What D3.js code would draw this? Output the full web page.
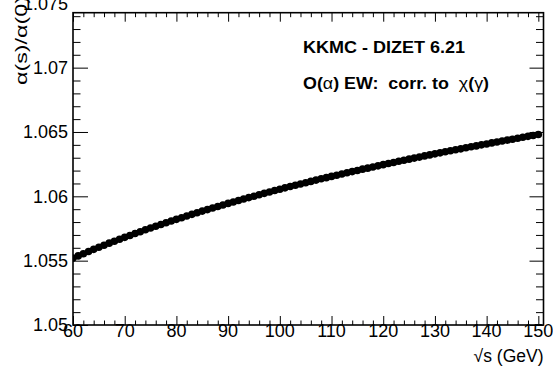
<!DOCTYPE html>
<html>
<head>
<meta charset="utf-8">
<script src="https://cdn.jsdelivr.net/npm/d3@7/dist/d3.min.js"></script>
<style>
  html, body { margin: 0; padding: 0; background: #fff; }
  svg { display: block; font-family: "Liberation Sans", Arial, Helvetica, sans-serif; }
</style>
</head>
<body>
<svg id="chart" width="553" height="375"></svg>
<script>
// Centre-of-mass energy sqrt(s) in GeV, one point per GeV
const energies = d3.range(60, 151, 1);

// alpha(s)/alpha(0) at each energy
const alphaRatio = [
  1.05520, 1.05537, 1.05554, 1.05571, 1.05588, 1.05604, 1.05620, 1.05636, 1.05651, 1.05666,
  1.05681, 1.05696, 1.05711, 1.05725, 1.05740, 1.05754, 1.05768, 1.05781, 1.05795, 1.05808,
  1.05821, 1.05834, 1.05847, 1.05860, 1.05872, 1.05885, 1.05897, 1.05909, 1.05921, 1.05933,
  1.05945, 1.05956, 1.05968, 1.05979, 1.05990, 1.06001, 1.06012, 1.06023, 1.06034, 1.06045,
  1.06055, 1.06066, 1.06076, 1.06086, 1.06096, 1.06106, 1.06116, 1.06126, 1.06136, 1.06145,
  1.06155, 1.06164, 1.06174, 1.06183, 1.06192, 1.06201, 1.06211, 1.06219, 1.06228, 1.06237,
  1.06246, 1.06255, 1.06263, 1.06272, 1.06280, 1.06289, 1.06297, 1.06305, 1.06314, 1.06322,
  1.06330, 1.06338, 1.06346, 1.06354, 1.06362, 1.06369, 1.06377, 1.06385, 1.06392, 1.06400,
  1.06407, 1.06415, 1.06422, 1.06430, 1.06437, 1.06444, 1.06451, 1.06459, 1.06466, 1.06473,
  1.06480
];

// Axis ranges and tick positions
const xDomain = [60, 151];
const yDomain = [1.05, 1.07427];
const xMajorTicks = [60, 70, 80, 90, 100, 110, 120, 130, 140, 150];
const xTickLabels = ["60", "70", "80", "90", "100", "110", "120", "130", "140", "150"];
const xMinorTicks = d3.range(60, 151, 2).filter(v => v % 10 !== 0);
const yMajorTicks = [1.05, 1.055, 1.06, 1.065, 1.07, 1.075];
const yTickLabels = ["1.05", "1.055", "1.06", "1.065", "1.07", "1.075"];
const yMinorTicks = [1.051, 1.052, 1.053, 1.054, 1.056, 1.057, 1.058, 1.059,
                     1.061, 1.062, 1.063, 1.064, 1.066, 1.067, 1.068, 1.069,
                     1.071, 1.072, 1.073, 1.074];

const svg = d3.select("#chart");
const frame = { left: 73, right: 543.5, top: 12.7, bottom: 325 };

const x = d3.scaleLinear().domain(xDomain).range([frame.left, frame.right]);
const y = d3.scaleLinear().domain(yDomain).range([frame.bottom, frame.top]);

svg.append("defs").append("clipPath").attr("id", "frameClip")
  .append("rect")
  .attr("x", frame.left).attr("y", frame.top)
  .attr("width", frame.right - frame.left).attr("height", frame.bottom - frame.top);

// Data markers
svg.append("g").attr("clip-path", "url(#frameClip)")
  .selectAll("circle")
  .data(energies.map((e, i) => [e, alphaRatio[i]]))
  .join("circle")
  .attr("cx", d => x(d[0]))
  .attr("cy", d => y(d[1]))
  .attr("r", 3.8)
  .attr("fill", "#000");

// Axes drawn via d3 axis generators, ticks pointing into the frame
const inRangeY = v => v >= yDomain[0] && v <= yDomain[1];
const tickStyle = g => {
  g.select(".domain").remove();
  g.selectAll("line").attr("stroke", "#000").attr("stroke-width", 1);
  g.selectAll("text").remove();
};

// bottom
svg.append("g").attr("transform", `translate(0,${frame.bottom})`)
  .call(d3.axisBottom(x).tickValues(xMajorTicks).tickSize(-9)).call(tickStyle);
svg.append("g").attr("transform", `translate(0,${frame.bottom})`)
  .call(d3.axisBottom(x).tickValues(xMinorTicks).tickSize(-4.5)).call(tickStyle);
// top
svg.append("g").attr("transform", `translate(0,${frame.top})`)
  .call(d3.axisTop(x).tickValues(xMajorTicks).tickSize(-9)).call(tickStyle);
svg.append("g").attr("transform", `translate(0,${frame.top})`)
  .call(d3.axisTop(x).tickValues(xMinorTicks).tickSize(-4.5)).call(tickStyle);
// left
svg.append("g").attr("transform", `translate(${frame.left},0)`)
  .call(d3.axisLeft(y).tickValues(yMajorTicks.filter(inRangeY)).tickSize(-15)).call(tickStyle);
svg.append("g").attr("transform", `translate(${frame.left},0)`)
  .call(d3.axisLeft(y).tickValues(yMinorTicks).tickSize(-7.5)).call(tickStyle);
// right
svg.append("g").attr("transform", `translate(${frame.right},0)`)
  .call(d3.axisRight(y).tickValues(yMajorTicks.filter(inRangeY)).tickSize(-14)).call(tickStyle);
svg.append("g").attr("transform", `translate(${frame.right},0)`)
  .call(d3.axisRight(y).tickValues(yMinorTicks).tickSize(-7.5)).call(tickStyle);

// Frame
svg.append("rect")
  .attr("x", frame.left).attr("y", frame.top)
  .attr("width", frame.right - frame.left).attr("height", frame.bottom - frame.top)
  .attr("fill", "none").attr("stroke", "#000").attr("stroke-width", 1.6);

// Tick labels
svg.append("g").selectAll("text")
  .data(xMajorTicks)
  .join("text")
  .attr("x", d => x(d))
  .attr("y", frame.bottom + 12)
  .attr("text-anchor", "middle")
  .attr("font-size", 18)
  .attr("fill", "#000")
  .text((d, i) => xTickLabels[i]);

svg.append("g").selectAll("text")
  .data(yMajorTicks)
  .join("text")
  .attr("x", frame.left - 5)
  .attr("y", d => y(d) + 6.3)
  .attr("text-anchor", "end")
  .attr("font-size", 18)
  .attr("fill", "#000")
  .text((d, i) => yTickLabels[i]);

// Axis titles
svg.append("text")
  .attr("transform", "translate(27,0) rotate(-90)")
  .attr("x", -85).attr("y", 0)
  .attr("font-size", 16.5)
  .attr("textLength", 89)
  .attr("lengthAdjust", "spacingAndGlyphs")
  .attr("fill", "#000")
  .text("α(s)/α(0)");

svg.append("text")
  .attr("x", frame.right).attr("y", 362)
  .attr("text-anchor", "end")
  .attr("font-size", 17.5)
  .attr("fill", "#000")
  .text("√s (GeV)");

// Annotation
svg.append("text")
  .attr("x", 303).attr("y", 52.7)
  .attr("font-size", 16)
  .attr("font-weight", "bold")
  .attr("textLength", 162)
  .attr("lengthAdjust", "spacingAndGlyphs")
  .attr("fill", "#000")
  .text("KKMC - DIZET 6.21");

const note = svg.append("text")
  .attr("x", 303).attr("y", 88.5)
  .attr("font-size", 16.5)
  .attr("textLength", 186)
  .attr("lengthAdjust", "spacingAndGlyphs")
  .attr("fill", "#000")
  .attr("xml:space", "preserve")
  .style("white-space", "pre");
[["O(", true], ["α", false], [") EW:  corr. to  ", true], ["χ", false],
 ["(", true], ["γ", false], [")", true]].forEach(([t, bold]) => {
  note.append("tspan").attr("font-weight", bold ? "bold" : "normal").text(t);
});
</script>
</body>
</html>
